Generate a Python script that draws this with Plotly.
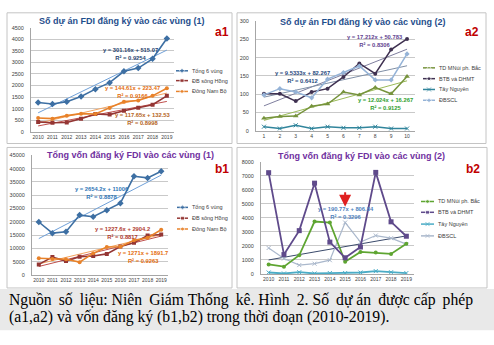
import plotly.graph_objects as go

W, H = 494, 345
def px(x): return x / W
def py(y): return 1 - y / H

# ---------------- data ----------------
years = [2010, 2011, 2012, 2013, 2014, 2015, 2016, 2017, 2018, 2019]
idx = [1, 2, 3, 4, 5, 6, 7, 8, 9, 10]

# a1: number of projects (1)
a1_names = ["Tổng 6 vùng", "ĐB sông Hồng", "Đông Nam Bộ"]
a1_tong = [1260, 1200, 1300, 1520, 1840, 2120, 2610, 2750, 3150, 4030]
a1_dbsh = [425, 385, 400, 565, 765, 740, 910, 1035, 1165, 1550]
a1_dnb = [595, 565, 695, 780, 765, 1020, 1300, 1350, 1550, 1875]
a1_trend_slope = [301.16, 117.65, 144.61]
a1_trend_icpt = [515.07, 132.53, 223.47]
a1_trend_r2 = ["0.9254", "0.8998", "0.9166"]

# a2: number of projects (2)
a2_names = ["TD MNúi ph. Bắc", "BTB và DHMT", "Tây Nguyên", "ĐBSCL"]
a2_tdmn = [34, 39, 40, 67, 73, 106, 98, 118, 101, 148]
a2_btb = [101, 101, 81, 106, 115, 147, 184, 156, 222, 251]
a2_tn = [11, 6, 15, 6, 11, 8, 8, 11, 6, 6]
a2_dbscl = [98, 115, 106, 90, 141, 159, 177, 139, 139, 210]
a2_trend_slope = [12.024, 17.212, 9.5333]
a2_trend_icpt = [16.267, 50.783, 82.267]
a2_trend_r2 = ["0.9125", "0.8306", "0.6412"]

# b1: registered capital (1)
b1_names = ["Tổng 6 vùng", "ĐB sông Hồng", "Đông Nam Bộ"]
b1_tong = [19900, 15700, 16200, 22500, 21900, 24300, 27000, 37100, 36500, 39000]
b1_dbsh = [3950, 6700, 5200, 6800, 7100, 7900, 10700, 12100, 14800, 15200]
b1_dnb = [6250, 6000, 5900, 4800, 8100, 10500, 10600, 13000, 14000, 17000]
b1_trend_slope = [2654.2, 1271.0, 1227.6]
b1_trend_icpt = [11006, 1891.7, 2904.2]
b1_trend_r2 = ["0.8878", "0.9263", "0.8817"]

# b2: registered capital (2)
b2_names = ["TD MNúi ph. Bắc", "BTB và DHMT", "Tây Nguyên", "ĐBSCL"]
b2_tdmn = [680, 520, 1330, 3740, 3670, 870, 1570, 1520, 1430, 2150]
b2_btb = [7230, 1380, 3090, 6480, 2270, 1150, 1920, 7250, 3720, 2690]
b2_tn = [100, 30, 120, 30, 60, 60, 100, 200, 120, 60]
b2_dbscl = [1850, 1100, 630, 730, 980, 3670, 2270, 2740, 2550, 2130]
b2_trend_slope = [190.77]
b2_trend_icpt = [806.84]
b2_trend_r2 = ["0.3296"]

caption_l1 = "Nguồn số liệu: Niên Giám Thống kê. Hình 2. Số dự án được cấp phép"
caption_l2 = "(a1,a2) và vốn đăng ký (b1,b2) trong thời đoạn (2010-2019)."

# ---------------- styles ----------------
SANS = "Liberation Sans"
C_TONG = "#3d6fa3"
C_DBSH = "#943634"
C_DNB = "#e8822a"
C_TDMN = "#76933c"
C_BTB = "#3f3151"
C_TN = "#31859c"
C_DBSCL = "#95b3d7"
C_TDMN_B = "#5ea531"
C_BTB_B = "#5f4a8b"
C_TN_B = "#4bacc6"
C_DBSCL_B = "#aab8cc"

fig = go.Figure()

def series(x, y, color, symbol, size, width, xa, ya):
    fig.add_trace(go.Scatter(x=x, y=y, mode="lines+markers",
                             line=dict(color=color, width=width),
                             marker=dict(symbol=symbol, size=size, color=color),
                             xaxis=xa, yaxis=ya, showlegend=False, hoverinfo="skip"))

def trend(xv, slope, icpt, color, width, xa, ya):
    n = len(xv)
    fig.add_trace(go.Scatter(x=[xv[0], xv[-1]], y=[slope * 1 + icpt, slope * n + icpt],
                             mode="lines", line=dict(color=color, width=width),
                             xaxis=xa, yaxis=ya, showlegend=False, hoverinfo="skip"))

# a1
trend(years, a1_trend_slope[0], a1_trend_icpt[0], "#6fa0d8", 1, "x", "y")
trend(years, a1_trend_slope[1], a1_trend_icpt[1], "#c0504d", 1, "x", "y")
trend(years, a1_trend_slope[2], a1_trend_icpt[2], "#f4a460", 1, "x", "y")
series(years, a1_tong, C_TONG, "diamond", 5, 1.6, "x", "y")
series(years, a1_dbsh, C_DBSH, "square", 4, 1.6, "x", "y")
series(years, a1_dnb, C_DNB, "circle", 4, 1.6, "x", "y")

# a2
trend(idx, a2_trend_slope[0], a2_trend_icpt[0], "#9bbb59", 1, "x2", "y2")
trend(idx, a2_trend_slope[1], a2_trend_icpt[1], "#7f7f9f", 1, "x2", "y2")
trend(idx, a2_trend_slope[2], a2_trend_icpt[2], "#7f8fa6", 1, "x2", "y2")
series(idx, a2_tdmn, C_TDMN, "triangle-up", 5, 1.5, "x2", "y2")
series(idx, a2_btb, C_BTB, "circle", 4, 1.5, "x2", "y2")
series(idx, a2_tn, C_TN, "x-thin-open", 4, 1.6, "x2", "y2")
series(idx, a2_dbscl, C_DBSCL, "diamond", 4, 1.5, "x2", "y2")

# b1
trend(years, b1_trend_slope[0], b1_trend_icpt[0], "#6fa0d8", 1, "x3", "y3")
trend(years, b1_trend_slope[1], b1_trend_icpt[1], "#c0504d", 1, "x3", "y3")
trend(years, b1_trend_slope[2], b1_trend_icpt[2], "#f4a460", 1, "x3", "y3")
series(years, b1_tong, C_TONG, "diamond", 5, 1.6, "x3", "y3")
series(years, b1_dbsh, C_DBSH, "square", 4, 1.6, "x3", "y3")
series(years, b1_dnb, C_DNB, "circle", 4, 1.6, "x3", "y3")

# b2
trend(years, b2_trend_slope[0], b2_trend_icpt[0], "#3a4a6b", 1, "x4", "y4")
series(years, b2_dbscl, C_DBSCL_B, "x-thin-open", 4, 1.2, "x4", "y4")
series(years, b2_tn, C_TN_B, "x-thin-open", 4, 1.8, "x4", "y4")
series(years, b2_tdmn, C_TDMN_B, "circle", 4, 1.8, "x4", "y4")
series(years, b2_btb, C_BTB_B, "square", 5, 1.8, "x4", "y4")

# ---------------- custom legends (overlay pixel axis) ----------------
legend_specs = [
    (a1_names, [C_TONG, C_DBSH, C_DNB], ["diamond", "square", "circle"], 176, 190, [69, 79, 90]),
    (a2_names, [C_TDMN, C_BTB, C_TN, C_DBSCL], ["triangle-up", "circle", "x-thin-open", "diamond"], 423, 437, [66, 77, 88, 99]),
    (b1_names, [C_TONG, C_DBSH, C_DNB], ["diamond", "square", "circle"], 177, 190, [208, 219, 230]),
    (b2_names, [C_TDMN_B, C_BTB_B, C_TN_B, C_DBSCL_B], ["circle", "square", "x-thin-open", "x-thin-open"], 421, 436, [202, 213, 225, 237]),
]
annotations = []
for names, cols, syms, lx0, tx, ys in legend_specs:
    for nm, c, s, yy in zip(names, cols, syms, ys):
        fig.add_trace(go.Scatter(x=[lx0, (lx0 + tx - 2) / 2, tx - 2], y=[yy, yy, yy],
                                 mode="lines+markers", line=dict(color=c, width=1.5),
                                 marker=dict(symbol=s, size=[0, 4, 0], color=c),
                                 xaxis="x5", yaxis="y5", showlegend=False, hoverinfo="skip"))
        annotations.append(dict(x=px(tx), y=py(yy), xref="paper", yref="paper", text=nm,
                                showarrow=False, xanchor="left", yanchor="middle",
                                font=dict(family=SANS, size=5.5, color="#404040")))

# ---------------- axes ----------------
def xax(dom, rng, vals):
    return dict(domain=dom, range=rng, tickmode="array", tickvals=vals, ticktext=[str(v) for v in vals],
                showgrid=False, zeroline=False, showline=True, linecolor="#a6a6a6", linewidth=1,
                ticks="", tickfont=dict(family=SANS, size=5, color="#404040"), fixedrange=True)

def yax(dom, rng, dt, anchor):
    return dict(domain=dom, range=rng, dtick=dt, tick0=0, tickformat="d", showgrid=True,
                gridcolor="#c9c9c9", gridwidth=1,
                zeroline=False, showline=True, linecolor="#a6a6a6", linewidth=1, ticks="",
                ticklabelstandoff=5, tickfont=dict(family=SANS, size=5.5, color="#404040"),
                anchor=anchor, fixedrange=True)

layout = dict(
    width=W, height=H, margin=dict(l=0, r=0, t=0, b=0),
    paper_bgcolor="white", plot_bgcolor="rgba(0,0,0,0)", showlegend=False,
    xaxis=dict(xax([px(31), px(174)], [2009.5, 2019.5], years), anchor="y"),
    yaxis=yax([py(131), py(25)], [0, 4500], 500, "x"),
    xaxis2=dict(xax([px(256), px(415)], [0.5, 10.5], idx), anchor="y2"),
    yaxis2=yax([py(130), py(18.3)], [0, 300], 50, "x2"),
    xaxis3=dict(xax([px(32), px(168)], [2009.5, 2019.5], years), anchor="y3"),
    yaxis3=yax([py(276.7), py(155)], [0, 45000], 5000, "x3"),
    xaxis4=dict(xax([px(261), px(414)], [2009.5, 2019.5], years), anchor="y4"),
    yaxis4=yax([py(275.7), py(161.7)], [0, 8000], 1000, "x4"),
    xaxis5=dict(domain=[0, 1], range=[0, W], visible=False, anchor="y5", fixedrange=True),
    yaxis5=dict(domain=[0, 1], range=[H, 0], visible=False, anchor="x5", fixedrange=True),
)

# panel frames and caption background
shapes = []
for (x0, y0, x1, y1) in [(7, 10, 232, 143), (237, 10, 486, 143), (7, 147, 232, 290), (237, 147, 487, 290)]:
    shapes.append(dict(type="rect", xref="paper", yref="paper", x0=px(x0), x1=px(x1), y0=py(y1), y1=py(y0),
                       line=dict(color="#c4c4c4", width=1), fillcolor="white", layer="below"))
shapes.append(dict(type="rect", xref="paper", yref="paper", x0=0, x1=1, y0=py(333), y1=py(291),
                   line=dict(width=0), fillcolor="#e9e9e9", layer="below"))

def title(txt, x, y, color):
    annotations.append(dict(x=px(x), y=py(y), xref="paper", yref="paper", text="<b>" + txt + "</b>",
                            showarrow=False, xanchor="center", yanchor="middle",
                            font=dict(family=SANS, size=9, color=color)))

title("Số dự án FDI đăng ký vào các vùng (1)", 122, 18, "#1f4e8c")
title("Số dự án FDI đăng ký vào các vùng (2)", 363, 19, "#1f4e8c")
title("Tổng vốn đăng ký FDI vào các vùng (1)", 130, 155, "#7030a0")
title("Tổng vốn đăng ký FDI vào các vùng (2)", 361, 156, "#7030a0")

for lab, x, y in [("a1", 222, 30), ("a2", 472, 30), ("b1", 222, 169), ("b2", 473, 169)]:
    annotations.append(dict(x=px(x), y=py(y), xref="paper", yref="paper", text="<b>" + lab + "</b>",
                            showarrow=False, xanchor="center", yanchor="middle",
                            font=dict(family=SANS, size=12, color="#c00000")))

def eq(slope, icpt, r2):
    s = ("%g" % slope)
    i = ("%g" % icpt)
    return "<b>y = %sx + %s<br>R² = %s</b>" % (s, i, r2)

def eqlabel(slope, icpt, r2, x, y, color):
    annotations.append(dict(x=px(x), y=py(y), xref="paper", yref="paper", text=eq(slope, icpt, r2),
                            showarrow=False, xanchor="center", yanchor="middle", align="center",
                            font=dict(family=SANS, size=5.8, color=color)))

eqlabel(a1_trend_slope[0], a1_trend_icpt[0], a1_trend_r2[0], 130, 52, "#1f3f6e")
eqlabel(a1_trend_slope[2], a1_trend_icpt[2], a1_trend_r2[2], 132, 91, "#e46c0a")
eqlabel(a1_trend_slope[1], a1_trend_icpt[1], a1_trend_r2[1], 143, 118, "#b4631a")
eqlabel(a2_trend_slope[1], a2_trend_icpt[1], a2_trend_r2[1], 375, 39, "#5f3f8f")
eqlabel(a2_trend_slope[2], a2_trend_icpt[2], a2_trend_r2[2], 302, 75, "#1f497d")
eqlabel(a2_trend_slope[0], a2_trend_icpt[0], a2_trend_r2[0], 385, 103, "#2ea02e")
eqlabel(b1_trend_slope[0], b1_trend_icpt[0], b1_trend_r2[0], 102, 193, "#2e75b6")
eqlabel(b1_trend_slope[2], b1_trend_icpt[2], b1_trend_r2[2], 122, 234, "#b03a2e")
eqlabel(b1_trend_slope[1], b1_trend_icpt[1], b1_trend_r2[1], 143, 259, "#e46c0a")
eqlabel(b2_trend_slope[0], b2_trend_icpt[0], b2_trend_r2[0], 346, 214, "#4f81bd")

# red arrow in b2
annotations.append(dict(x=2015, y=4800, xref="x4", yref="y4", ax=0, ay=-16, text="",
                        showarrow=True, arrowhead=2, arrowsize=1.2, arrowwidth=2, arrowcolor="#e02020"))

# caption (line 1 widened with thin spaces to mimic justification)
words = caption_l1.split(" ")
wide_gaps = {0, 1, 3, 5, 7, 9, 11, 13}
line1 = words[0]
for i, wd in enumerate(words[1:]):
    line1 += (" \u2009" if i in wide_gaps else " ") + wd
for txt, yy in [(line1, 302), (caption_l2, 320)]:
    annotations.append(dict(x=px(7), y=py(yy), xref="paper", yref="paper", text=txt,
                            showarrow=False, xanchor="left", yanchor="middle",
                            font=dict(family="Liberation Serif", size=15.7, color="black")))

fig.update_layout(**layout, shapes=shapes, annotations=annotations)
fig.write_html("out.html")
